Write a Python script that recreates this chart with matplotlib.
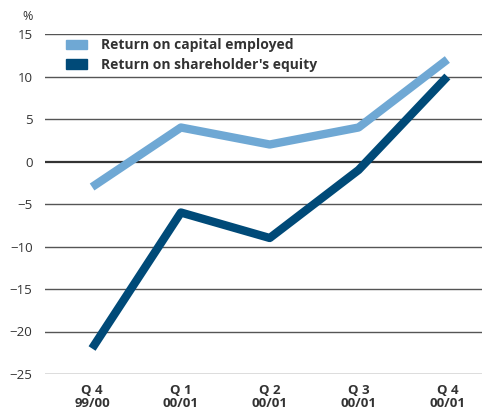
import matplotlib.pyplot as plt
from matplotlib.patches import Patch

quarters = ["Q 4\n99/00", "Q 1\n00/01", "Q 2\n00/01", "Q 3\n00/01", "Q 4\n00/01"]
roce = [-3, 4, 2, 4, 12]
roe = [-22, -6, -9, -1, 10]

light = "#6fa8d4"
dark = "#004a78"

plt.rcParams["font.family"] = ["Open Sans", "DejaVu Sans"]

fig = plt.figure(figsize=(4.82, 4.12), dpi=100)
ax = fig.add_axes([45 / 482, 1 - 374 / 412, 1 - 45 / 482, 340 / 412])

x = list(range(len(quarters)))
ax.plot(x, roce, color=light, lw=6, solid_capstyle="butt", zorder=3)
ax.plot(x, roe, color=dark, lw=6, solid_capstyle="butt", zorder=3)

ax.set_xlim(-0.53, 4.39)
ax.set_ylim(-25, 15)
ax.set_yticks(range(-25, 16, 5))
ax.set_yticklabels([str(v).replace("-", "\u2212") for v in range(-25, 16, 5)])
for v in range(-25, 16, 5):
    ax.axhline(v, color="#333333" if v == 0 else "#555555", lw=1.6 if v == 0 else 1.0, zorder=1)

ax.set_xticks(x)
ax.set_xticklabels(quarters, fontweight="bold", color="#333333", fontsize=9.5, linespacing=1.05)
ax.tick_params(length=0, labelsize=9.5, colors="#333333")
ax.tick_params(axis="y", pad=9)
ax.tick_params(axis="x", pad=7)
for s in ax.spines.values():
    s.set_visible(False)

fig.text(28 / 482, 1 - 17 / 412, "%", ha="center", va="center", fontsize=9, color="#333333")

handles = [Patch(color=light, label="Return on capital employed"),
           Patch(color=dark, label="Return on shareholder's equity")]
leg = ax.legend(handles=handles, loc="upper left", bbox_to_anchor=(0.03, 1.012), frameon=False,
                prop={"weight": "bold", "size": 10}, handlelength=1.5, handleheight=0.65,
                handletextpad=1.0, labelspacing=0.4, borderaxespad=0.2)
for t in leg.get_texts():
    t.set_color("#333333")

fig.savefig("out.png", dpi=100)
